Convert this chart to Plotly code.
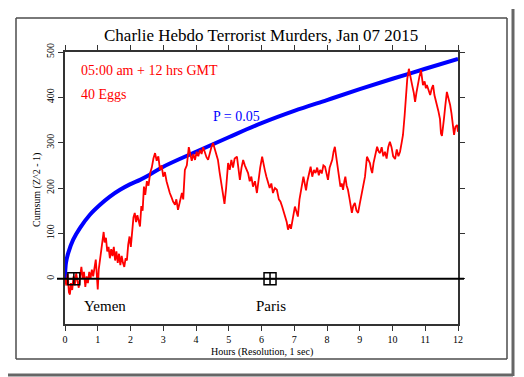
import plotly.graph_objects as go

# ---- data ----
hours_red = [0.00,0.04,0.08,0.12,0.15,0.18,0.22,0.26,0.30,0.34,0.38,0.42,0.46,0.50,0.54,0.58,0.62,0.66,0.70,0.74,
             0.78,0.82,0.86,0.90,0.94,0.97,1.00,1.03,1.07,1.10,1.14,1.18,1.21,1.25,1.29,1.33,1.37,1.41,1.45,1.49,
             1.53,1.57,1.61,1.65,1.69,1.73,1.77,1.81,1.85,1.89,1.93,1.97,2.01,2.05,2.09,2.13,2.17,2.21,2.25,2.29,
             2.33,2.37,2.41,2.45,2.50,2.55,2.60,2.65,2.70,2.75,2.80,2.85,2.90,2.95,3.00,3.05,3.10,3.15,3.20,3.25,
             3.30,3.36,3.40,3.45,3.50,3.57,3.61,3.66,3.72,3.78,3.82,3.87,3.92,3.97,4.02,4.07,4.12,4.17,4.22,4.27,
             4.32,4.37,4.42,4.47,4.52,4.57,4.62,4.67,4.72,4.77,4.82,4.87,4.92,4.98,5.03,5.08,5.13,5.18,5.25,5.30,
             5.34,5.39,5.44,5.49,5.54,5.59,5.64,5.69,5.74,5.80,5.86,5.91,5.96,6.02,6.06,6.10,6.15,6.20,6.25,6.30,
             6.35,6.41,6.47,6.53,6.58,6.63,6.68,6.72,6.77,6.81,6.86,6.90,6.93,6.98,7.02,7.06,7.11,7.16,7.20,7.24,
             7.28,7.32,7.36,7.40,7.45,7.50,7.55,7.60,7.65,7.70,7.75,7.79,7.84,7.89,7.94,7.98,8.03,8.08,8.12,8.16,
             8.20,8.24,8.28,8.33,8.37,8.41,8.45,8.49,8.53,8.56,8.60,8.64,8.68,8.72,8.76,8.80,8.85,8.90,8.95,9.00,
             9.07,9.12,9.16,9.22,9.27,9.31,9.35,9.38,9.42,9.47,9.53,9.58,9.62,9.67,9.72,9.77,9.82,9.87,9.92,9.97,
             10.02,10.08,10.13,10.18,10.23,10.28,10.32,10.37,10.41,10.45,10.50,10.55,10.60,10.65,10.69,10.73,10.78,10.82,10.87,10.90,
             10.93,10.98,11.02,11.05,11.10,11.15,11.20,11.24,11.28,11.32,11.36,11.40,11.45,11.48,11.51,11.54,11.57,11.61,11.66,11.70,
             11.76,11.80,11.84,11.88,11.92,11.97,12.00]
cumsum_red = [0,-15,10,-30,-35,-10,-25,5,-15,12,-5,-20,5,26,0,15,-18,5,-10,15,
              0,20,5,30,42,10,-24,20,40,60,85,103,80,90,60,70,45,65,50,70,
              40,60,35,55,30,50,35,26,45,40,75,93,70,110,135,145,125,140,130,115,
              160,150,203,185,215,205,233,245,265,277,260,270,240,250,225,235,215,200,189,180,
              170,163,175,152,165,189,175,240,250,290,277,260,275,262,280,270,284,275,290,277,
              268,262,280,290,299,285,270,262,235,210,185,165,200,255,240,262,245,265,269,240,
              218,245,262,250,240,233,215,225,203,215,189,225,245,269,250,240,225,211,200,210,
              189,200,196,175,170,159,148,137,125,108,120,110,123,145,159,150,137,175,190,203,
              225,210,195,215,235,247,225,240,233,245,228,240,232,250,247,235,218,245,255,262,
              280,291,270,247,225,203,210,196,215,225,205,196,180,160,145,160,167,150,145,165,
              189,210,225,269,260,255,240,233,255,269,291,280,277,290,270,280,265,290,302,290,
              270,264,285,270,280,300,317,360,405,440,463,440,427,410,390,410,434,445,460,440,
              427,435,420,427,415,405,420,427,405,395,383,370,352,320,315,330,352,380,412,400,
              383,365,345,317,335,339,324]

hours_p05 = [0, 0.01, 0.03, 0.1, 0.25, 0.46, 0.76, 1.07, 1.37, 1.68, 1.98, 2.29, 2.53, 3, 4, 5, 6, 7, 8, 9, 10, 11, 12]
cumsum_p05 = [0, 20, 35, 57, 86, 112, 141, 163, 181, 196, 208, 218, 227, 247, 280, 312, 343, 370, 394, 418, 441, 463, 485]

event_hours = [0.27, 6.26]
event_values = [0, 0]
event_names = ["Yemen", "Paris"]

x_ticks = list(range(0, 13))
y_ticks = [0, 100, 200, 300, 400, 500]

title_text = "Charlie Hebdo Terrorist Murders, Jan 07 2015"
period_text = "05:00 am + 12 hrs GMT"
eggs_text = "40 Eggs"
p_text = "P = 0.05"

SERIF = "Liberation Serif, Times New Roman, serif"

# page body has an 8px margin; figure is shrunk/shifted to compensate
OFF = 8
W, H = 524 - OFF, 377 - OFF
L, R, T, B = 65 - OFF, 458 - OFF, 52 - OFF, 324 - OFF
def px(x):
    return (x - OFF - L) / (R - L)
def py(y):
    return (B - (y - OFF)) / (B - T)

fig = go.Figure()
fig.add_trace(go.Scatter(x=hours_p05, y=cumsum_p05, mode="lines", line=dict(color="#0000ff", width=4, shape="spline"),
                         hoverinfo="skip", showlegend=False))
fig.add_trace(go.Scatter(x=hours_red, y=cumsum_red, mode="lines", line=dict(color="#ff0000", width=1.8),
                         hoverinfo="skip", showlegend=False))
fig.add_trace(go.Scatter(x=event_hours, y=event_values, mode="markers",
                         marker=dict(symbol="square-cross-open", size=12, color="black", line=dict(width=1.5, color="black")),
                         hoverinfo="skip", showlegend=False, cliponaxis=False))

# zero line extending slightly beyond the plot
fig.add_shape(type="line", xref="paper", yref="y", x0=px(57), x1=px(464), y0=0, y1=0,
              line=dict(color="black", width=2), layer="above")

# outer frame (four edges) and shadow
frame_col = "#4d4d4d"
for (xa, ya, xb, yb) in [(16, 18, 507, 18), (16, 359, 507, 359), (16, 18, 16, 359), (507, 18, 507, 359)]:
    fig.add_shape(type="line", xref="paper", yref="paper", x0=px(xa), x1=px(xb), y0=py(ya), y1=py(yb),
                  line=dict(color=frame_col, width=1.5))
fig.add_shape(type="line", xref="paper", yref="paper", x0=px(513), x1=px(513), y0=py(376), y1=py(9),
              line=dict(color="#666666", width=3))
fig.add_shape(type="line", xref="paper", yref="paper", x0=px(8), x1=px(513), y0=py(375), y1=py(375),
              line=dict(color="#666666", width=3))

ann = []
ann.append(dict(text=title_text, xref="paper", yref="paper", x=px(261), y=py(36), showarrow=False,
                font=dict(family=SERIF, size=17, color="black"), xanchor="center", yanchor="middle"))
ann.append(dict(text=period_text, xref="paper", yref="paper", x=px(79), y=py(71), showarrow=False,
                font=dict(family=SERIF, size=14, color="#ff0000"), xanchor="left", yanchor="middle"))
ann.append(dict(text=eggs_text, xref="paper", yref="paper", x=px(79), y=py(94), showarrow=False,
                font=dict(family=SERIF, size=14, color="#ff0000"), xanchor="left", yanchor="middle"))
ann.append(dict(text=p_text, xref="paper", yref="paper", x=px(211), y=py(116), showarrow=False,
                font=dict(family=SERIF, size=14, color="#0000ff"), xanchor="left", yanchor="middle"))
for name, cx in zip(event_names, [105, 271]):
    ann.append(dict(text=name, xref="paper", yref="paper", x=px(cx), y=py(306), showarrow=False,
                    font=dict(family=SERIF, size=15, color="black"), xanchor="center", yanchor="middle"))
ann.append(dict(text="Cumsum (Z^2 - 1)", xref="paper", yref="paper", x=px(37), y=py(190), showarrow=False,
                textangle=-90, font=dict(family=SERIF, size=10, color="black"), xanchor="center", yanchor="middle"))
ann.append(dict(text="Hours (Resolution, 1 sec)", xref="paper", yref="paper", x=px(262), y=py(352), showarrow=False,
                font=dict(family=SERIF, size=10, color="black"), xanchor="center", yanchor="middle"))

fig.update_layout(
    width=W, height=H,
    margin=dict(l=L, r=W - R, t=T, b=H - B, pad=0),
    paper_bgcolor="white", plot_bgcolor="white",
    annotations=ann,
    xaxis=dict(range=[0, 12], tickvals=x_ticks, ticktext=[str(t) for t in x_ticks],
               showgrid=False, zeroline=False, showline=True, linecolor="#333333", linewidth=1.5,
               mirror="ticks", ticks="outside", ticklen=5, tickcolor="#333333", tickwidth=1,
               tickfont=dict(family=SERIF, size=10, color="black")),
    yaxis=dict(range=[-100, 500], tickvals=y_ticks, ticktext=[str(t) for t in y_ticks],
               showgrid=False, zeroline=False, showline=True, linecolor="#333333", linewidth=1.5,
               mirror="ticks", ticks="outside", ticklen=5, tickcolor="#333333", tickwidth=1, tickangle=-90,
               tickfont=dict(family=SERIF, size=10, color="black")),
)

fig.write_html("out.html")
